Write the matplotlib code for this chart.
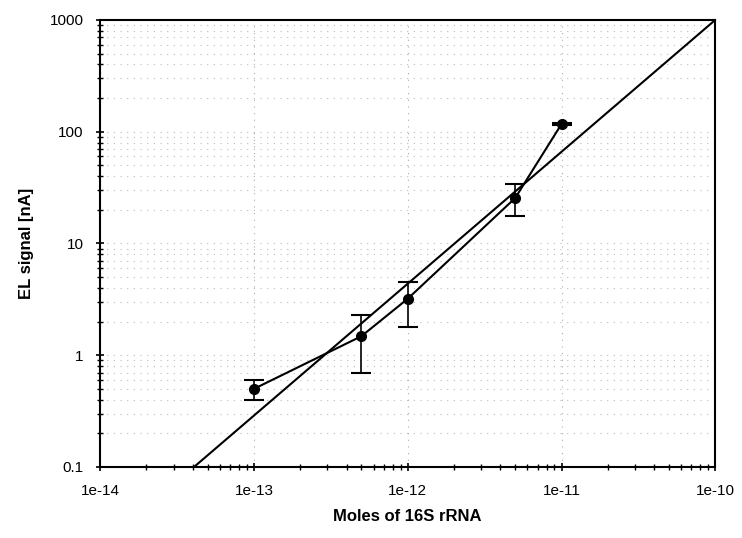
import matplotlib
matplotlib.use("Agg")
import matplotlib.pyplot as plt
import numpy as np
from matplotlib.ticker import FixedLocator, FixedFormatter, LogLocator, NullFormatter

plt.rcParams['font.family'] = ['Liberation Sans', 'DejaVu Sans']

# data
moles = [1e-13, 5e-13, 1e-12, 5e-12, 1e-11]
signal = [0.50, 1.48, 3.2, 25.5, 117]
err_low = [0.10, 0.79, 1.4, 8.0, 3.0]
err_high = [0.10, 0.80, 1.3, 8.5, 3.0]

# fit line (log10 y = slope * log10 x + intercept)
fit_slope = 1.18
fit_intercept = 3.0 + 1.18 * 10
fit_x_range = [1e-14, 1e-10]

x_ticks = [1e-14, 1e-13, 1e-12, 1e-11, 1e-10]
x_tick_labels = ["1e-14", "1e-13", "1e-12", "1e-11", "1e-10"]
y_ticks = [0.1, 1, 10, 100, 1000]
y_tick_labels = ["0.1", "1", "10", "100", "1000"]

fig = plt.figure(figsize=(7.42, 5.38), dpi=100)
ax = fig.add_axes([0.135, 0.132, 0.829, 0.831])
ax.set_xscale('log')
ax.set_yscale('log')
ax.set_xlim(1e-14, 1e-10)
ax.set_ylim(0.1, 1000)

# grid
ax.yaxis.set_minor_locator(LogLocator(base=10, subs=np.arange(2, 10)))
ax.xaxis.set_minor_locator(LogLocator(base=10, subs=np.arange(2, 10)))
ax.grid(True, which='major', axis='x', color='#aaaaaa', linestyle=(0, (1, 5)), linewidth=0.8)
ax.grid(True, which='both', axis='y', color='#bbbbbb', linestyle=(0, (1, 5)), linewidth=0.8)

# fit line
fx = np.logspace(np.log10(fit_x_range[0]), np.log10(fit_x_range[1]), 50)
fy = 10 ** (fit_slope * np.log10(fx) + fit_intercept)
ax.plot(fx, fy, color='black', linewidth=1.5, zorder=3)

# data
ax.errorbar(moles, signal, yerr=[err_low, err_high], fmt='o-', color='black',
            markersize=7, linewidth=1.5, elinewidth=1.2, capsize=7, capthick=1.5, zorder=4)

ax.xaxis.set_major_locator(FixedLocator(x_ticks))
ax.xaxis.set_major_formatter(FixedFormatter(x_tick_labels))
ax.xaxis.set_minor_formatter(NullFormatter())
ax.yaxis.set_major_locator(FixedLocator(y_ticks))
ax.yaxis.set_major_formatter(FixedFormatter(y_tick_labels))
ax.yaxis.set_minor_formatter(NullFormatter())

ax.tick_params(which='major', direction='inout', length=6, width=1.2, labelsize=11, pad=9)
ax.tick_params(which='minor', direction='inout', length=4, width=1.0)

for s in ax.spines.values():
    s.set_linewidth(1.5)
    s.set_color('black')

ax.set_xlabel("Moles of 16S rRNA", fontsize=12, fontweight='bold', labelpad=8)
ax.set_ylabel("EL signal [nA]", fontsize=12, fontweight='bold', labelpad=11)

fig.savefig("out.png", dpi=100)
